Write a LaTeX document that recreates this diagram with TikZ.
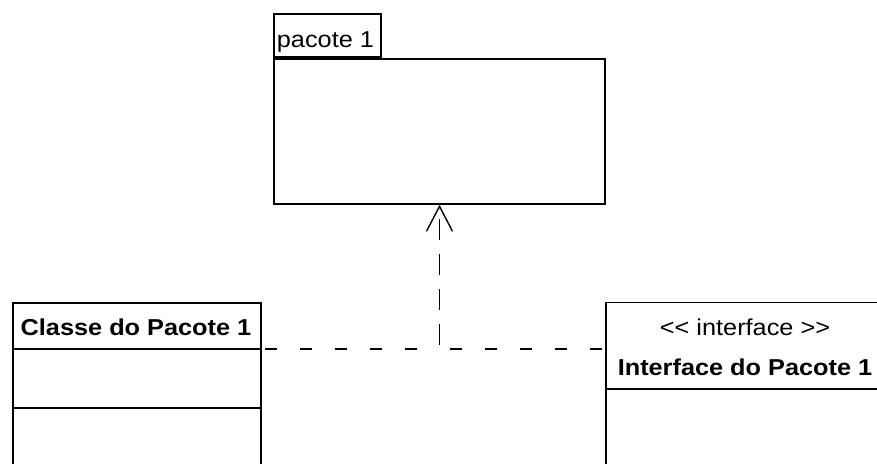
\documentclass[tikz,border=0pt]{standalone}
\usepackage{fontspec}
\newfontfamily\umlfont[FakeStretch=1.1]{Liberation Sans}
\usetikzlibrary{arrows.meta}

\begin{document}
\begin{tikzpicture}[x=1pt,y=-1pt,line width=1.8pt,
    umlbox/.style={draw,inner sep=0pt,anchor=north west},
    umltext/.style={anchor=base,inner sep=0pt,font=\umlfont\fontsize{23}{26}\selectfont},
    umlbold/.style={umltext,font=\umlfont\fontsize{23}{26}\selectfont\bfseries},
    hdash/.style={dash pattern=on 12pt off 23pt},
    vdash/.style={dash pattern=on 21pt off 14pt,dash phase=31pt}]
    \useasboundingbox (0,0) rectangle (877,463);
    \clip (0,0) rectangle (877,463);

    \node[umlbox,minimum width=331,minimum height=145] (pkg) at (273,58) {};
    \node[umlbox,anchor=south west,minimum width=107,minimum height=43] (tab) at (pkg.north west) {};
    \node[umltext,anchor=base west] (pkgname) at (276,47) {pacote 1};

    \node[umlbox,minimum width=248,minimum height=200] (classe) at (12,302) {};
    \node[umlbold] (classename) at (136,335) {Classe do Pacote 1};
    \draw (classe.west |- 0,349) -- (classe.east |- 0,349);
    \draw (classe.west |- 0,408) -- (classe.east |- 0,408);

    \node[umlbox,minimum width=280,minimum height=200] (iface) at (605,301.5) {};
    \node[umltext] (stereo) at (745,335) {<< interface >>};
    \node[umlbold] (ifacename) at (745,375) {Interface do Pacote 1};
    \draw (iface.west |- 0,389) -- (iface.east |- 0,389);

    \coordinate (junction) at (439.5,349);
    \draw[hdash,dash phase=12pt] (junction) -- (classe.east |- junction);
    \draw[hdash,dash phase=25pt] (junction) -- (iface.west |- junction);
    \draw[vdash,-{Straight Barb[length=25pt,width=26pt,line width=1.4pt]}] (junction) -- (pkg.south -| junction);
\end{tikzpicture}
\end{document}
